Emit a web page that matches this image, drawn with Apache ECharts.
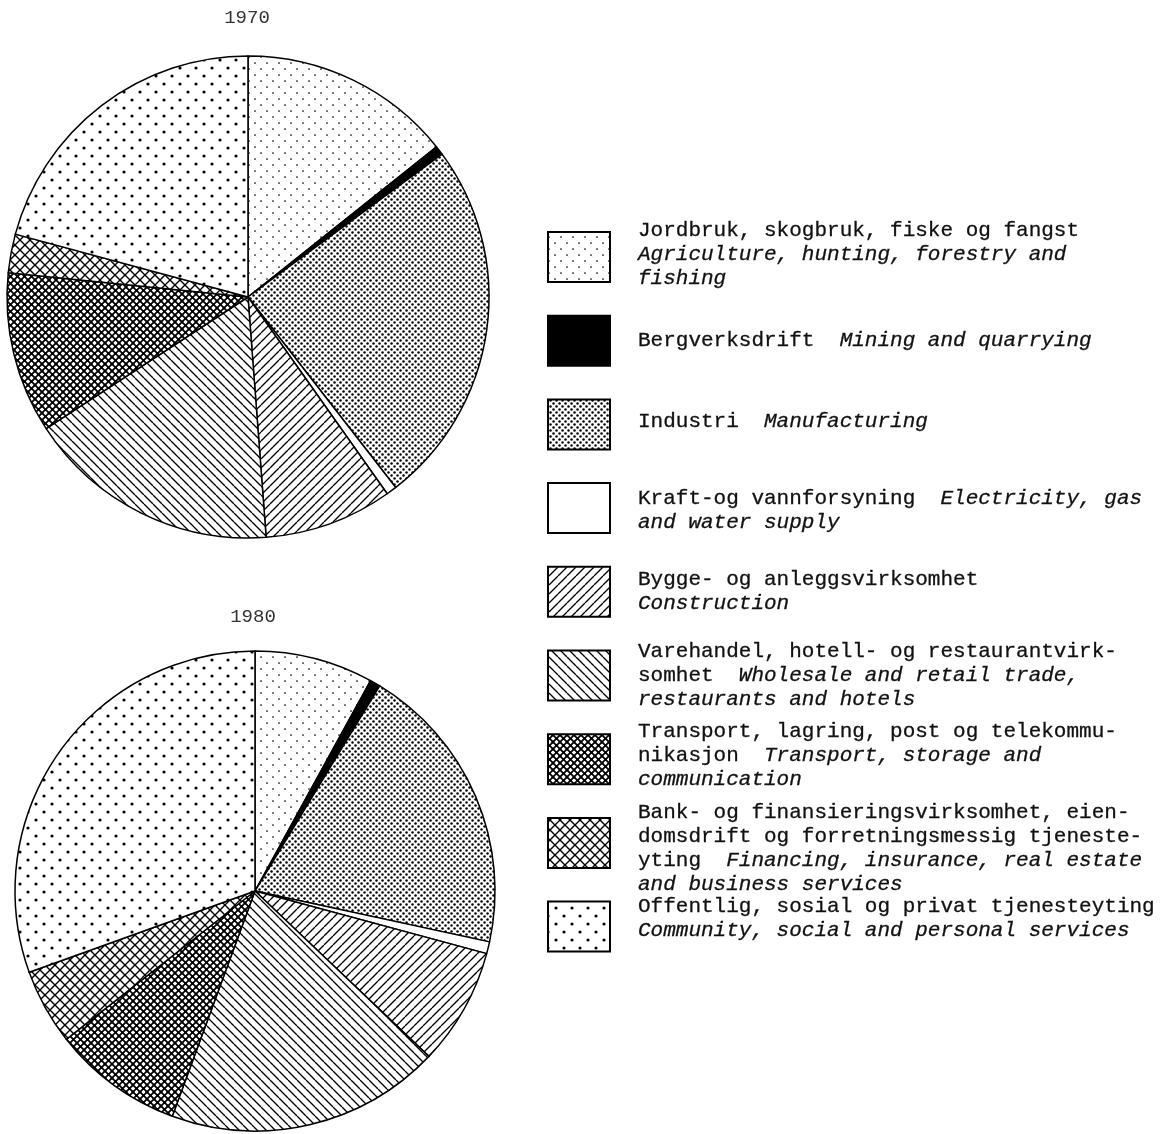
<!DOCTYPE html>
<html>
<head>
<meta charset="utf-8">
<script src="https://cdn.jsdelivr.net/npm/echarts@6/dist/echarts.min.js"></script>
<style>
html,body{margin:0;padding:0;background:#fff;}
#chart{width:1166px;height:1134px;}
</style>
</head>
<body>
<div id="chart"></div>
<script>
// ---- data ----
const years = ['1970', '1980'];
const categories = [
  'Agriculture, hunting, forestry and fishing',
  'Mining and quarrying',
  'Manufacturing',
  'Electricity, gas and water supply',
  'Construction',
  'Wholesale and retail trade, restaurants and hotels',
  'Transport, storage and communication',
  'Financing, insurance, real estate and business services',
  'Community, social and personal services'
];
const values1970 = [14.3, 0.6, 24.6, 0.7, 8.6, 17.0, 10.8, 2.6, 20.8];
const values1980 = [8.0, 0.7, 19.7, 0.8, 7.9, 18.5, 8.8, 5.1, 30.5];
const legendLabels = [
  '{n|Jordbruk, skogbruk, fiske og fangst}\n{i|Agriculture, hunting, forestry and}\n{i|fishing}',
  '{n|Bergverksdrift  }{i|Mining and quarrying}',
  '{n|Industri  }{i|Manufacturing}',
  '{n|Kraft-og vannforsyning  }{i|Electricity, gas}\n{i|and water supply}',
  '{n|Bygge- og anleggsvirksomhet}\n{i|Construction}',
  '{n|Varehandel, hotell- og restaurantvirk-}\n{n|somhet  }{i|Wholesale and retail trade,}\n{i|restaurants and hotels}',
  '{n|Transport, lagring, post og telekommu-}\n{n|nikasjon  }{i|Transport, storage and}\n{i|communication}',
  '{n|Bank- og finansieringsvirksomhet, eien-}\n{n|domsdrift og forretningsmessig tjeneste-}\n{n|yting  }{i|Financing, insurance, real estate}\n{i|and business services}',
  '{n|Offentlig, sosial og privat tjenesteyting}\n{i|Community, social and personal services}'
];

// ---- pattern fills ----
function tile(size, draw) {
  const c = document.createElement('canvas');
  c.width = size; c.height = size;
  const g = c.getContext('2d');
  g.fillStyle = '#fff'; g.fillRect(0, 0, size, size);
  g.fillStyle = '#000'; g.strokeStyle = '#000';
  draw(g, size);
  return { image: c, repeat: 'repeat' };
}
function dot(g, x, y, r) { g.beginPath(); g.arc(x, y, r, 0, Math.PI * 2); g.fill(); }
function slash(g, s, w) {
  g.lineWidth = w; g.beginPath();
  for (const k of [-s, 0, s]) { g.moveTo(k, s); g.lineTo(k + s, 0); }
  g.stroke();
}
function backslash(g, s, w) {
  g.lineWidth = w; g.beginPath();
  for (const k of [-s, 0, s]) { g.moveTo(k, 0); g.lineTo(k + s, s); }
  g.stroke();
}
function cornerDots(g, s, r) {
  dot(g, 0, 0, r); dot(g, s, 0, r); dot(g, 0, s, r); dot(g, s, s, r); dot(g, s / 2, s / 2, r);
}
const fills = [
  tile(12, (g) => { dot(g, 3, 3, 0.85); dot(g, 9, 9, 0.85); }),
  '#000',
  tile(6, (g) => { dot(g, 1.5, 1.5, 1.25); dot(g, 4.5, 4.5, 1.25); }),
  '#fff',
  tile(9, (g, s) => slash(g, s, 1.35)),
  tile(9, (g, s) => backslash(g, s, 1.35)),
  tile(7, (g, s) => { slash(g, s, 1.7); backslash(g, s, 1.7); cornerDots(g, s, 1.5); }),
  tile(10, (g, s) => { slash(g, s, 1.4); backslash(g, s, 1.4); }),
  tile(16, (g) => { dot(g, 4, 4, 1.6); dot(g, 12, 12, 1.6); })
];

// ---- chart ----
const chart = echarts.init(document.getElementById('chart'), null, { renderer: 'canvas' });

function pieSeries(name, vals, center, radius) {
  return {
    type: 'pie', name: name, center: center, radius: radius,
    startAngle: 90, clockwise: true, animation: false, silent: true,
    label: { show: false }, labelLine: { show: false },
    emphasis: { disabled: true },
    itemStyle: { borderColor: '#000', borderWidth: 1.5 },
    data: vals.map((v, i) => ({ name: categories[i], value: v, itemStyle: { color: fills[i] } }))
  };
}

const FONT = "'Liberation Mono', 'DejaVu Sans Mono', monospace";
const graphics = [];
graphics.push({ type: 'text', x: 247, y: 18, style: { text: years[0], font: "19px " + FONT, fill: '#333', textAlign: 'center', verticalAlign: 'middle' } });
graphics.push({ type: 'text', x: 253, y: 617, style: { text: years[1], font: "19px " + FONT, fill: '#333', textAlign: 'center', verticalAlign: 'middle' } });

const textShift = [-3, 0, -3, 2, 0, 0, -4, 6, -8];
legendLabels.forEach((lab, i) => {
  const top = 232 + i * 83.7;
  graphics.push({
    type: 'rect', shape: { x: 548, y: top, width: 62, height: 50 },
    style: { fill: fills[i], stroke: '#000', lineWidth: 2 }
  });
  const rs = { fontFamily: FONT, fontSize: 21, lineHeight: 24, fill: '#111', stroke: '#111', lineWidth: 0.3 };
  graphics.push({
    type: 'text', x: 638, y: top + 25 + textShift[i],
    style: Object.assign({
      text: lab, verticalAlign: 'middle', textAlign: 'left',
      rich: {
        n: rs,
        i: Object.assign({}, rs, { fontStyle: 'italic' })
      }
    }, rs)
  });
});

chart.setOption({
  backgroundColor: '#fff',
  animation: false,
  series: [
    pieSeries(years[0], values1970, [248, 297], 241),
    pieSeries(years[1], values1980, [255, 891], 240)
  ],
  graphic: graphics
});
</script>
</body>
</html>
